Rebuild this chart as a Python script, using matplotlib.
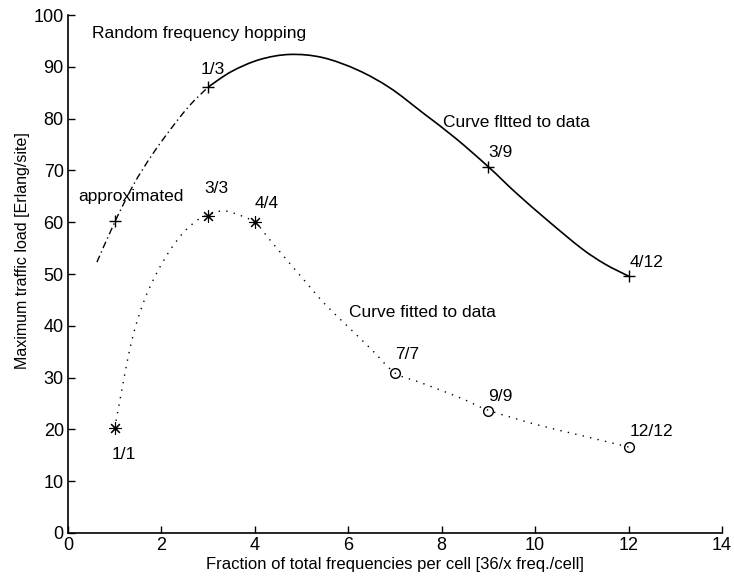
import matplotlib
matplotlib.use("Agg")
import matplotlib.pyplot as plt
from matplotlib.path import Path
from matplotlib.patches import PathPatch

plt.rcParams['font.family'] = ['Liberation Sans', 'DejaVu Sans']

# Measured points: random frequency hopping (reuse patterns)
rfh_x = [1, 3, 9, 12]
rfh_y = [60.2, 86.1, 70.7, 49.6]
rfh_labels = ['', '1/3', '3/9', '4/12']

# Fitted curve for random frequency hopping: approximated part (dash-dot) and fitted part (solid)
rfh_approx_x = [0.62, 1.0, 1.4, 1.8, 2.2, 2.6, 3.0]
rfh_approx_y = [52.3, 60.0, 67.2, 73.0, 78.0, 82.5, 86.1]
rfh_fit_x = [3.0, 3.5, 4.1, 4.75, 5.45, 6.2, 6.9, 7.6, 8.3, 9.0, 9.6, 10.3, 11.0,
             11.5, 12.0]
rfh_fit_y = [86.1, 89.1, 91.4, 92.4, 91.8, 89.4, 85.9, 81.1, 76.2, 70.7, 65.6, 60.1,
             54.9, 51.9, 49.6]

# Measured points: non-hopping reuse patterns
nh_star_x = [1, 3, 4]
nh_star_y = [20.2, 61.2, 60.0]
nh_star_labels = ['1/1', '3/3', '4/4']
nh_circ_x = [7, 9, 12]
nh_circ_y = [30.9, 23.6, 16.6]
nh_circ_labels = ['7/7', '9/9', '12/12']

# Fitted curve for the non-hopping case
nh_fit_x = [1.0, 1.15, 1.3, 1.45, 1.65, 1.9, 2.2, 2.5, 2.8, 3.0, 3.3, 3.6, 4.0,
            4.25, 4.47, 5.0, 5.5, 6.0, 6.5, 7.0, 7.5, 8.0, 8.5, 9.0, 10.0, 11.0, 12.0]
nh_fit_y = [20.2, 27.5, 34.5, 40.0, 45.3, 50.2, 54.8, 58.3, 60.6, 61.4, 62.2, 61.6,
            60.0, 57.4, 55.0, 49.4, 44.2, 39.8, 35.4, 30.9, 29.2, 27.5, 25.7, 23.7,
            21.0, 18.8, 16.6]


def smooth_path(xs, ys):
    """Path through the given vertices using Catmull-Rom style Bezier segments."""
    pts = list(zip(xs, ys))
    verts = [pts[0]]
    codes = [Path.MOVETO]
    n = len(pts)
    for i in range(n - 1):
        p0 = pts[i - 1] if i > 0 else pts[i]
        p1 = pts[i]
        p2 = pts[i + 1]
        p3 = pts[i + 2] if i + 2 < n else pts[i + 1]
        c1 = (p1[0] + (p2[0] - p0[0]) / 6.0, p1[1] + (p2[1] - p0[1]) / 6.0)
        c2 = (p2[0] - (p3[0] - p1[0]) / 6.0, p2[1] - (p3[1] - p1[1]) / 6.0)
        verts += [c1, c2, p2]
        codes += [Path.CURVE4] * 3
    return Path(verts, codes)


def draw_curve(ax, xs, ys, **kw):
    patch = PathPatch(smooth_path(xs, ys), facecolor='none', edgecolor='black',
                      transform=ax.transData, **kw)
    ax.add_patch(patch)


fig = plt.figure(figsize=(7.34, 5.78), dpi=100)
ax = fig.add_axes([0.0926, 0.0779, 0.891, 0.896])

draw_curve(ax, rfh_approx_x, rfh_approx_y, lw=1.0, ls=(0, (5, 2.5, 1, 2.5)))
draw_curve(ax, rfh_fit_x, rfh_fit_y, lw=1.2, ls='-')
draw_curve(ax, nh_fit_x, nh_fit_y, lw=1.0, ls=(0, (1, 4.5)))

ax.plot(rfh_x, rfh_y, ls='none', marker='+', ms=9, mew=1.0, color='black')
ax.plot(nh_star_x, nh_star_y, ls='none', marker=(8, 2, 0), ms=9, mew=0.8, color='black')
ax.plot(nh_circ_x, nh_circ_y, ls='none', marker='o', ms=7, mew=1.0,
        mfc='none', mec='black')

fs = 12.5
ax.text(0.51, 96.5, 'Random frequency hopping', fontsize=fs, va='center', ha='left')
ax.text(0.21, 64.9, 'approximated', fontsize=fs, va='center', ha='left')
ax.text(2.83, 89.4, rfh_labels[1], fontsize=fs, va='center', ha='left')
ax.text(9.0, 73.4, rfh_labels[2], fontsize=fs, va='center', ha='left')
ax.text(12.03, 52.3, rfh_labels[3], fontsize=fs, va='center', ha='left')
ax.text(8.03, 79.3, 'Curve fltted to data', fontsize=fs, va='center', ha='left')

ax.text(0.94, 15.1, nh_star_labels[0], fontsize=fs, va='center', ha='left')
ax.text(2.91, 66.6, nh_star_labels[1], fontsize=fs, va='center', ha='left')
ax.text(4.0, 63.7, nh_star_labels[2], fontsize=fs, va='center', ha='left')
ax.text(7.0, 34.4, nh_circ_labels[0], fontsize=fs, va='center', ha='left')
ax.text(9.0, 26.3, nh_circ_labels[1], fontsize=fs, va='center', ha='left')
ax.text(12.03, 19.5, nh_circ_labels[2], fontsize=fs, va='center', ha='left')
ax.text(6.02, 42.5, 'Curve fitted to data', fontsize=fs, va='center', ha='left')

ax.set_xlim(0, 14)
ax.set_ylim(0, 100)
ax.set_xticks(range(0, 15, 2))
ax.set_yticks(range(0, 101, 10))
ax.spines['top'].set_visible(False)
ax.spines['right'].set_visible(False)
ax.spines['left'].set_linewidth(1.2)
ax.spines['bottom'].set_linewidth(1.2)
ax.tick_params(direction='in', length=5, width=1.0, labelsize=13, pad=3)

ax.set_xlabel('Fraction of total frequencies per cell [36/x freq./cell]', fontsize=12, labelpad=2)
ax.set_ylabel('Maximum traffic load [Erlang/site]', fontsize=11.5)
ax.yaxis.set_label_coords(-0.058, 0.546)

fig.savefig('out.png', dpi=100)
